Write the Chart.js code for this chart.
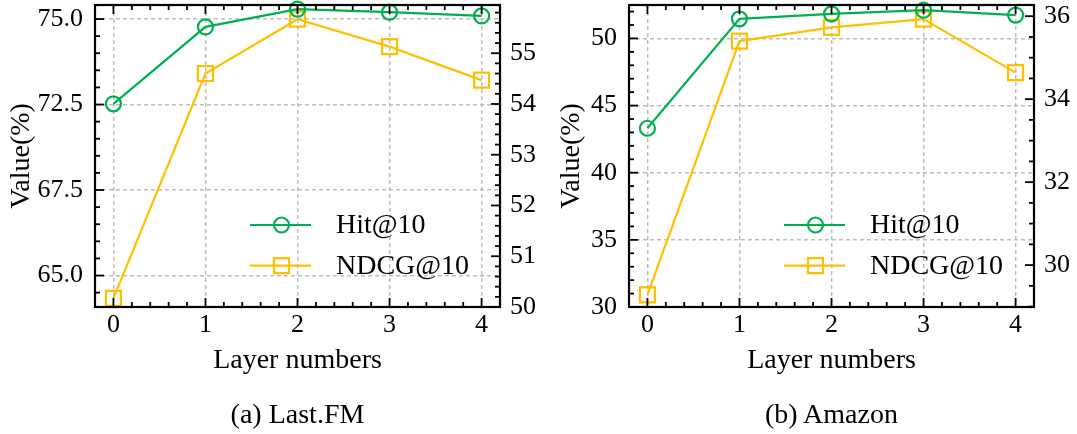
<!DOCTYPE html>
<html>
<head>
<meta charset="utf-8">
<script src="https://cdn.jsdelivr.net/npm/chart.js@4.4.1/dist/chart.umd.min.js"></script>
<style>
  body { margin: 0; background: #fff; width: 1077px; height: 434px; position: relative; overflow: hidden;
         font-family: 'Liberation Serif', 'Times New Roman', serif; }
  .box { position: absolute; top: 0; height: 434px; }
  .cap { position: absolute; top: 397px; font-size: 28px; line-height: 34px; white-space: nowrap;
         transform: translateX(-50%); color: #000; }
</style>
</head>
<body>
<div class="box" style="left:0;width:540px"><canvas id="lastfm"></canvas></div>
<div class="box" style="left:540px;width:537px"><canvas id="amazon"></canvas></div>
<div class="cap" style="left:297.5px">(a) Last.FM</div>
<div class="cap" style="left:831.5px">(b) Amazon</div>

<script>
  // Data
  const layers      = [0, 1, 2, 3, 4];
  const seriesNames = ['Hit@10', 'NDCG@10'];

  const lastfmHit  = [72.52, 74.77, 75.29, 75.20, 75.09];
  const lastfmNdcg = [50.17, 54.60, 55.67, 55.13, 54.47];
  const amazonHit  = [43.31, 51.46, 51.83, 52.11, 51.74];
  const amazonNdcg = [29.28, 35.40, 35.73, 35.93, 34.64];

  // Tick positions and the labels printed on them
  const lastfmLeftTicks  = [67.5, 70, 72.5, 75];
  const lastfmLeftLabels = ['65.0', '67.5', '72.5', '75.0'];
  const lastfmRightTicks = [50, 51, 52, 53, 54, 55];
  const amazonLeftTicks  = [30, 35, 40, 45, 50];
  const amazonRightTicks = [30, 32, 34, 36];

  const GREEN = '#00B050';
  const GOLD  = '#FFC000';
  const FONT  = "'Liberation Serif', 'Times New Roman', serif";

  Chart.defaults.font.family = FONT;
  Chart.defaults.color = '#000';

  // Inward ticks on all four sides, frame and the in-plot legend
  const decor = {
    id: 'decor',
    afterDraw(chart, args, opts) {
      const { ctx, chartArea: a, scales } = chart;
      ctx.save();
      ctx.strokeStyle = '#000';
      ctx.lineWidth = 1.8;
      const seg = (x1, y1, x2, y2) => { ctx.beginPath(); ctx.moveTo(x1, y1); ctx.lineTo(x2, y2); ctx.stroke(); };
      const marks = (scale, step) => {
        const majors = scale.ticks.map(t => t.value);
        const start = Math.ceil(scale.min / step - 1e-6);
        const out = [];
        for (let i = start; i * step <= scale.max + 1e-9; i++) {
          const v = i * step;
          const major = majors.some(m => Math.abs(m - v) < 1e-6);
          out.push({ p: scale.getPixelForValue(v), len: major ? 9 : 5 });
        }
        return out;
      };
      marks(scales.x, opts.xStep).forEach(m => {
        seg(m.p, a.bottom, m.p, a.bottom - m.len);
        seg(m.p, a.top, m.p, a.top + m.len);
      });
      marks(scales.y, opts.yStep).forEach(m => seg(a.left, m.p, a.left + m.len, m.p));
      marks(scales.y1, opts.y1Step).forEach(m => seg(a.right, m.p, a.right - m.len, m.p));

      ctx.lineWidth = 2.2;
      ctx.strokeRect(a.left, a.top, a.right - a.left, a.bottom - a.top);

      // legend
      ctx.font = '28px ' + FONT;
      ctx.textBaseline = 'middle';
      ctx.textAlign = 'left';
      chart.data.datasets.forEach((ds, i) => {
        const y = a.top + 220 + i * 40.7;
        const x0 = a.left + 155, x1 = a.left + 216, xm = a.left + 186.5;
        ctx.strokeStyle = ds.borderColor;
        ctx.lineWidth = 2.2;
        seg(x0, y, x1, y);
        ctx.beginPath();
        if (ds.pointStyle === 'circle') ctx.arc(xm, y, 7.5, 0, Math.PI * 2);
        else ctx.rect(xm - 7.5, y - 7.5, 15, 15);
        ctx.stroke();
        ctx.fillStyle = '#000';
        ctx.fillText(ds.label, a.left + 241, y + 1);
      });
      ctx.restore();
    }
  };

  const noPad = s => { s.paddingTop = 0; s.paddingBottom = 0; s.paddingLeft = 0; s.paddingRight = 0; };

  function buildChart(id, hit, ndcg, o) {
    const ds = (label, vals, axis, color, style, r) => ({
      label, yAxisID: axis,
      data: layers.map((x, i) => ({ x, y: vals[i] })),
      borderColor: color, borderWidth: 2.2,
      pointStyle: style, pointRadius: r, pointBorderWidth: 2.2,
      pointBorderColor: color, pointBackgroundColor: 'rgba(0,0,0,0)',
      tension: 0, clip: false
    });
    const gridStyle = { color: '#bdbdbd', lineWidth: 1.5, drawTicks: false };
    return new Chart(document.getElementById(id), {
      type: 'line',
      data: {
        datasets: [
          ds(seriesNames[0], hit,  'y',  GREEN, 'circle', 7.5),
          ds(seriesNames[1], ndcg, 'y1', GOLD,  'rect',  10.6)
        ]
      },
      options: {
        responsive: true,
        maintainAspectRatio: false,
        animation: false,
        events: [],
        layout: { autoPadding: false, padding: { top: 5, bottom: 0, left: 0, right: 0 } },
        plugins: {
          legend: { display: false },
          tooltip: { enabled: false },
          decor: { xStep: 0.2, yStep: o.yStep, y1Step: o.y1Step }
        },
        scales: {
          x: {
            type: 'linear', min: -0.2, max: 4.2,
            afterBuildTicks: s => { s.ticks = layers.map(v => ({ value: v })); },
            afterFit: s => { s.height = 127; noPad(s); },
            ticks: { font: { size: 26 }, padding: 3, callback: v => String(v) },
            grid: gridStyle,
            border: { display: false, dash: [4, 3] },
            title: { display: true, text: 'Layer numbers', font: { size: 28 }, padding: { top: 0, bottom: 57 } }
          },
          y: {
            position: 'left', min: o.yMin, max: o.yMax,
            afterBuildTicks: s => { s.ticks = o.yTicks.map(v => ({ value: v })); },
            afterFit: s => { s.width = o.leftW; noPad(s); },
            ticks: { font: { size: 26 }, padding: 12, callback: o.yLabel },
            grid: gridStyle,
            border: { display: false, dash: [4, 3] },
            title: { display: true, text: 'Value(%)', font: { size: 28 }, padding: { top: o.titlePad, bottom: 0 } }
          },
          y1: {
            position: 'right', min: o.y1Min, max: o.y1Max,
            afterBuildTicks: s => { s.ticks = o.y1Ticks.map(v => ({ value: v })); },
            afterFit: s => { s.width = o.rightW; noPad(s); },
            ticks: { font: { size: 26 }, padding: 10, callback: v => String(v) },
            grid: { display: false, drawTicks: false },
            border: { display: false }
          }
        }
      },
      plugins: [decor]
    });
  }

  buildChart('lastfm', lastfmHit, lastfmNdcg, {
    yMin: 66.58, yMax: 75.41, yTicks: lastfmLeftTicks, yStep: 0.5,
    yLabel: v => lastfmLeftLabels[lastfmLeftTicks.indexOf(v)],
    y1Min: 50, y1Max: 55.95, y1Ticks: lastfmRightTicks, y1Step: 0.2,
    leftW: 95, rightW: 40, titlePad: 5
  });

  buildChart('amazon', amazonHit, amazonNdcg, {
    yMin: 30, yMax: 52.49, yTicks: amazonLeftTicks, yStep: 1,
    yLabel: v => String(v),
    y1Min: 28.99, y1Max: 36.27, y1Ticks: amazonRightTicks, y1Step: 0.5,
    leftW: 89, rightW: 43, titlePad: 15
  });
</script>
</body>
</html>
